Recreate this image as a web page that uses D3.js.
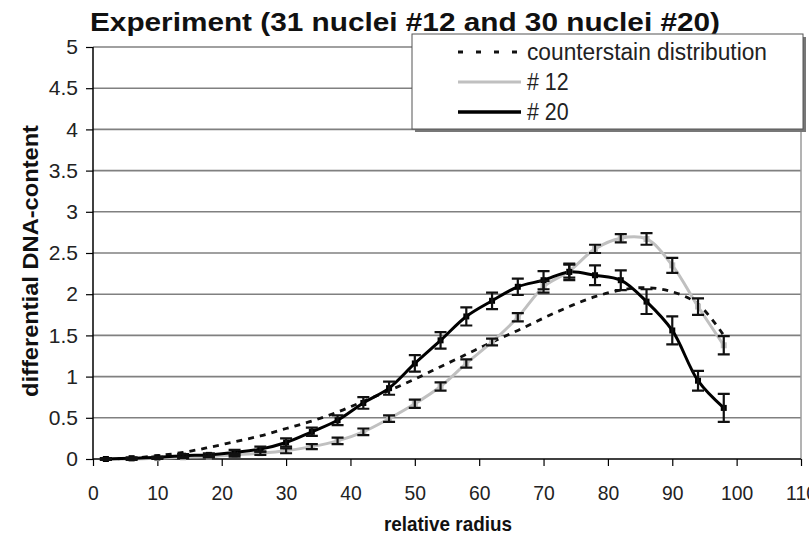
<!DOCTYPE html>
<html><head><meta charset="utf-8">
<script src="https://cdn.jsdelivr.net/npm/d3@7"></script>
<style>body{margin:0;background:#fff} svg{display:block;font-family:"Liberation Sans",Arial,sans-serif}</style>
</head><body>
<svg id="c" width="809" height="544"></svg>
<script>
const radius = [2,6,10,14,18,22,26,30,34,38,42,46,50,54,58,62,66,70,74,78,82,86,90,94,98];
const counterstain = [0.0,0.01,0.04,0.08,0.14,0.21,0.28,0.37,0.46,0.57,0.70,0.83,0.97,1.12,1.27,1.42,1.56,1.71,1.85,1.97,2.05,2.08,2.03,1.88,1.50];
const nuclei12 = [0.0,0.0,0.01,0.02,0.03,0.05,0.07,0.10,0.15,0.22,0.33,0.49,0.67,0.88,1.16,1.42,1.72,2.09,2.28,2.55,2.68,2.67,2.35,1.85,1.38];
const err12 = [0.01,0.01,0.01,0.01,0.01,0.02,0.02,0.03,0.03,0.04,0.04,0.04,0.05,0.05,0.05,0.04,0.05,0.07,0.08,0.05,0.05,0.07,0.09,0.10,0.11];
const nuclei20 = [0.0,0.01,0.02,0.04,0.05,0.08,0.12,0.20,0.33,0.47,0.68,0.86,1.16,1.44,1.73,1.92,2.09,2.17,2.27,2.23,2.17,1.91,1.56,0.95,0.62];
const err20 = [0.01,0.01,0.01,0.02,0.02,0.03,0.03,0.05,0.05,0.06,0.07,0.08,0.10,0.10,0.11,0.10,0.10,0.11,0.10,0.12,0.12,0.15,0.17,0.12,0.17];
const xTicks = [0,10,20,30,40,50,60,70,80,90,100,110];
const yTicks = [0,0.5,1,1.5,2,2.5,3,3.5,4,4.5,5];
const titleText = "Experiment (31 nuclei #12 and 30 nuclei #20)";
const xLabel = "relative radius";
const yLabel = "differential DNA-content";
const legendLabels = ["counterstain distribution","# 12","# 20"];

const svg = d3.select("#c");
const x = d3.scaleLinear().domain([0,110]).range([93,801]);
const y = d3.scaleLinear().domain([0,5]).range([459,47]);

function condense(sel, f){
  sel.each(function(){
    const w = this.getComputedTextLength();
    d3.select(this).attr("textLength", w*f).attr("lengthAdjust","spacingAndGlyphs");
  });
}

// gridlines
svg.append("g").selectAll("line").data(yTicks.filter(d=>d>0)).join("line")
  .attr("x1",x(0)).attr("x2",x(110)).attr("y1",d=>y(d)).attr("y2",d=>y(d))
  .attr("stroke","#808080").attr("stroke-width",1.6);
// right border
svg.append("line").attr("x1",x(110)).attr("x2",x(110)).attr("y1",y(5)).attr("y2",y(0))
  .attr("stroke","#9a9a9a").attr("stroke-width",1.5);

// axes
const yAxis = d3.axisLeft(y).tickValues(yTicks).tickSize(7).tickPadding(8).tickFormat(d3.format("~g"));
const gy = svg.append("g").attr("transform",`translate(${x(0)},0)`).call(yAxis);
const xAxis = d3.axisBottom(x).tickValues(xTicks).tickSize(7).tickPadding(19).tickFormat(d3.format("~g"));
const gx = svg.append("g").attr("transform",`translate(0,${y(0)})`).call(xAxis);
[gx,gy].forEach(g=>{
  g.select(".domain").attr("stroke","#000").attr("stroke-width",1.5);
  g.selectAll(".tick line").attr("stroke","#000").attr("stroke-width",1.2);
  g.selectAll("text").attr("font-size",21).attr("fill","#222").attr("font-family","Liberation Sans, Arial, sans-serif");
});
condense(gx.selectAll("text"), 0.92);
gx.select(".domain").attr("d",`M${x(0)},0H${x(110)}`);
gy.select(".domain").attr("d",`M0,${y(5)}V${y(0)}`);

// lines
const pts = vals => radius.map((r,i)=>[r,vals[i]]);
const line = d3.line().x(d=>x(d[0])).y(d=>y(d[1])).curve(d3.curveCatmullRom);
svg.append("path").attr("d",line(pts(counterstain))).attr("fill","none")
  .attr("stroke","#111").attr("stroke-width",2.8).attr("stroke-dasharray","6,6");
svg.append("path").attr("d",line(pts(nuclei12))).attr("fill","none")
  .attr("stroke","#c0c0c0").attr("stroke-width",3);
svg.append("path").attr("d",line(pts(nuclei20))).attr("fill","none")
  .attr("stroke","#000").attr("stroke-width",3);

// markers
svg.append("g").selectAll("rect").data(pts(nuclei12)).join("rect")
  .attr("x",d=>x(d[0])-3).attr("y",d=>y(d[1])-3).attr("width",6).attr("height",6).attr("fill","#c0c0c0");
svg.append("g").selectAll("rect").data(pts(nuclei20)).join("rect")
  .attr("x",d=>x(d[0])-3).attr("y",d=>y(d[1])-3).attr("width",6).attr("height",6).attr("fill","#000");

// error bars
function errBars(vals, errs){
  const g = svg.append("g").attr("stroke","#111").attr("stroke-width",2.2).attr("fill","none");
  radius.forEach((r,i)=>{
    const cx = x(r), y1 = y(vals[i]+errs[i]), y2 = y(vals[i]-errs[i]);
    g.append("path").attr("d",`M${cx},${y1}V${y2}M${cx-6},${y1}H${cx+6}M${cx-6},${y2}H${cx+6}`);
  });
}
errBars(nuclei12, err12);
errBars(nuclei20, err20);

// title
svg.append("text").attr("x",90).attr("y",31).attr("font-size",26).attr("font-weight","bold")
  .attr("fill","#111").attr("textLength",630).attr("lengthAdjust","spacingAndGlyphs").text(titleText);
// axis labels
svg.append("text").attr("x",448).attr("y",531).attr("text-anchor","middle").attr("font-size",21)
  .attr("font-weight","bold").attr("fill","#111").attr("textLength",128).attr("lengthAdjust","spacingAndGlyphs").text(xLabel);
svg.append("text").attr("transform","translate(38,261) rotate(-90)").attr("text-anchor","middle")
  .attr("font-size",22).attr("font-weight","bold").attr("fill","#111")
  .attr("textLength",272).attr("lengthAdjust","spacingAndGlyphs").text(yLabel);

// legend
const lg = svg.append("g");
lg.append("rect").attr("x",415).attr("y",37).attr("width",391).attr("height",95).attr("fill","#777");
lg.append("rect").attr("x",412).attr("y",34).attr("width",391).attr("height",95).attr("fill","#fff")
  .attr("stroke","#555").attr("stroke-width",1);
const legStyles = [
  {stroke:"#111", w:3, dash:"5,13"},
  {stroke:"#c0c0c0", w:3, dash:null},
  {stroke:"#000", w:3.5, dash:null}
];
legendLabels.forEach((t,i)=>{
  const ly = 52 + i*30;
  const l = lg.append("line").attr("x1",458).attr("x2",521).attr("y1",ly).attr("y2",ly)
    .attr("stroke",legStyles[i].stroke).attr("stroke-width",legStyles[i].w);
  if(legStyles[i].dash) l.attr("stroke-dasharray",legStyles[i].dash);
  const tx = lg.append("text").attr("x",527).attr("y",ly+8).attr("font-size",23).attr("fill","#222").text(t);
  if(i===0) tx.attr("textLength",240).attr("lengthAdjust","spacingAndGlyphs");
  else condense(tx, 0.93);
});
</script>
</body></html>
